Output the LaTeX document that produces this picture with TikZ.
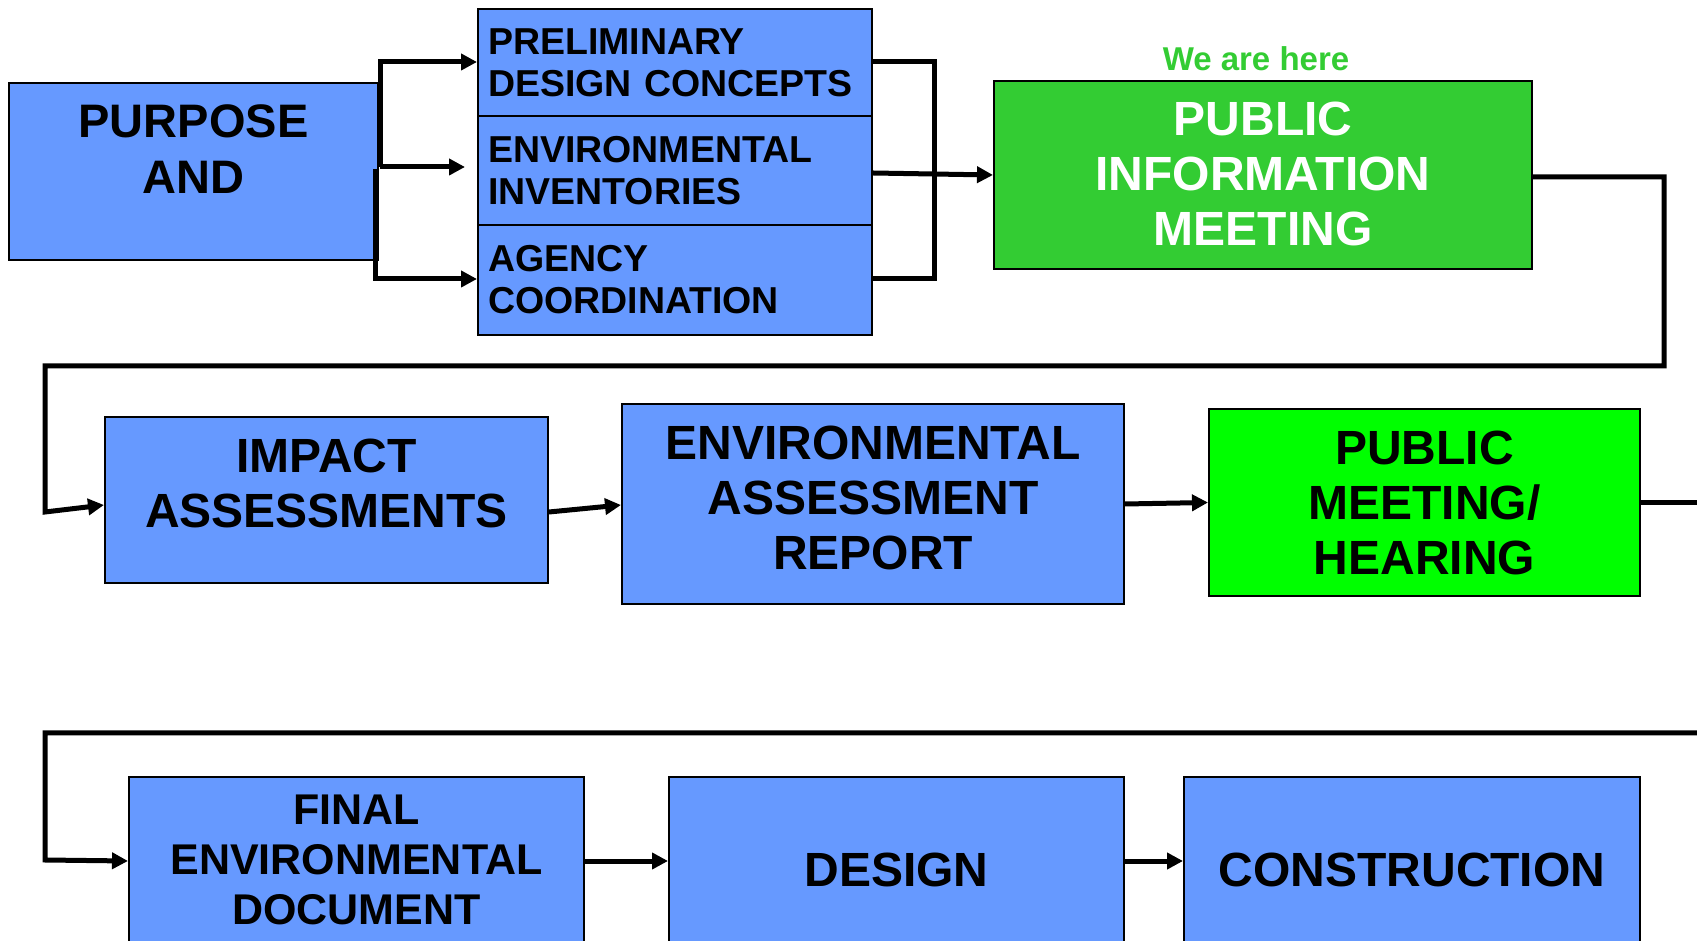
\documentclass[tikz,border=0pt]{standalone}
\usepackage{fontspec}
\setmainfont{Liberation Sans}
\usetikzlibrary{arrows.meta,calc}
\definecolor{boxblue}{HTML}{6699FF}
\definecolor{boxgreen}{HTML}{33CC33}
\definecolor{boxlime}{HTML}{00FF00}
\begin{document}
\begin{tikzpicture}[x=1pt,y=1pt,
  box/.style={draw=black, line width=2pt, inner sep=0pt, anchor=center},
  bluebox/.style={box, fill=boxblue},
  greenbox/.style={box, fill=boxgreen},
  limebox/.style={box, fill=boxlime},
  stackbox/.style={bluebox, minimum width=394pt, text width=374pt, inner xsep=10pt, align=left,
    font=\bfseries\fontsize{37.5}{42}\selectfont},
  big/.style={font=\bfseries\fontsize{48}{55}\selectfont, align=center, inner sep=0pt},
  conn/.style={line width=5pt, line join=miter, draw=black},
  arr/.style={conn, -{Triangle[length=16pt,width=16pt]}},
]
\useasboundingbox (0,0) rectangle (1697,940);
\clip (0,0) rectangle (1697,940);

% boxes
\node[bluebox, minimum width=369pt, minimum height=177pt] (purpose) at (193.5,768.5) {};
\node[big, font=\bfseries\fontsize{47}{56}\selectfont] (purposeT) at ([yshift=22.5pt]purpose.center) {PURPOSE\\AND};

\node[stackbox, minimum height=107pt] (pdc) at (675,877.5) {PRELIMINARY\\DESIGN CONCEPTS};
\node[stackbox, minimum height=109pt] (env) at (675,769.5) {ENVIRONMENTAL\\INVENTORIES};
\node[stackbox, minimum height=110pt] (agency) at (675,660) {AGENCY\\COORDINATION};

\node[greenbox, minimum width=538pt, minimum height=188pt] (pim) at (1263,765) {};
\node[big, text=white] (pimT) at ([yshift=1pt]pim.center) {PUBLIC\\INFORMATION\\MEETING};
\node[font=\bfseries\fontsize{33}{38}\selectfont, text=boxgreen, inner sep=0pt] (here) at (1256,881) {We are here};

\node[bluebox, minimum width=443pt, minimum height=166pt] (impact) at (326.5,440) {};
\node[big] (impactT) at ([yshift=16.5pt]impact.center) {IMPACT\\ASSESSMENTS};

\node[bluebox, minimum width=502pt, minimum height=200pt] (ea) at (873,436) {};
\node[big] (eaT) at ([yshift=6pt]ea.center) {ENVIRONMENTAL\\ASSESSMENT\\REPORT};

\node[limebox, minimum width=431pt, minimum height=187pt] (pmh) at (1424.5,437.5) {};
\node[big] (pmhT) at (pmh.center) {PUBLIC\\MEETING/\\HEARING};

\node[bluebox, minimum width=455pt, minimum height=168pt] (final) at (356.5,79) {};
\node[big, font=\bfseries\fontsize{43}{50}\selectfont] (finalT) at ([yshift=1pt]final.center) {FINAL\\ENVIRONMENTAL\\DOCUMENT};

\node[bluebox, minimum width=455pt, minimum height=168pt] (design) at (896.5,79) {};
\node[big] (designT) at ([yshift=-9pt]design.center) {DESIGN};

\node[bluebox, minimum width=456pt, minimum height=168pt] (constr) at (1412,79) {};
\node[big] (constrT) at ([yshift=-9pt]constr.center) {CONSTRUCTION};

% coordinates
\coordinate (a1) at (380,773);
\coordinate (a2) at (380,878);
\coordinate (a1e) at (465,773);
\coordinate (b1) at (375,771);
\coordinate (b2) at (375,661);
\coordinate (r1) at (934,878);
\coordinate (r2) at (934,661);
\coordinate (c1) at (1664,574);
\coordinate (c2) at (45,574);
\coordinate (c3) at (45,428);
\coordinate (e1) at (1700,437.5);
\coordinate (e2) at (1700,207);
\coordinate (d2) at (45,207);
\coordinate (d3) at (45,80);

% connectors
\draw[arr] (a1) -- (a2) -- (pdc.west |- a2);
\draw[arr] (a1) -- (a1e);
\draw[arr] (b1) -- (b2) -- (agency.west |- b2);
\draw[conn] (pdc.east |- r1) -- (r1) -- (r2) -- (agency.east |- r2);
\draw[arr] ([yshift=-2.5pt]env.east) -- (pim.west);
\draw[arr] ([yshift=-2pt]pim.east) -| (c1) -- (c2) -- (c3) -- ([yshift=-5pt]impact.west);
\draw[arr] ([yshift=-12pt]impact.east) -- ([yshift=-1pt]ea.west);
\draw[arr] (ea.east) -- (pmh.west);
\draw[conn] (pmh.east) -- (e1);
\draw[arr] (e2) -- (d2) -- (d3) -- (final.west);
\draw[arr] (final.east) -- (design.west);
\draw[arr] (design.east) -- (constr.west);
\end{tikzpicture}
\end{document}
